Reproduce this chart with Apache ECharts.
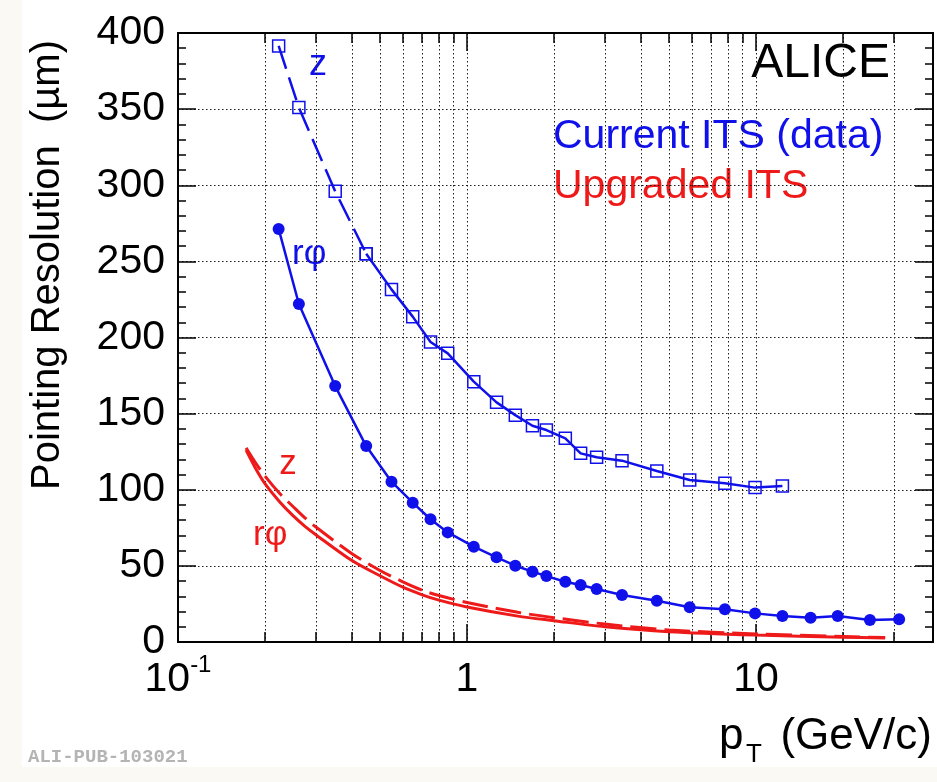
<!DOCTYPE html>
<html>
<head>
<meta charset="utf-8">
<title>Pointing resolution</title>
<script src="https://cdn.jsdelivr.net/npm/echarts@6/dist/echarts.min.js"></script>
<style>
  html, body { margin: 0; padding: 0; background: #fbf9f4; }
  #chart0 { width: 937px; height: 782px; }
</style>
</head>
<body>
<div id="chart0"></div>
<script>
// current ITS (data), pT bins in GeV/c
var ptCurrent = [0.223, 0.262, 0.35, 0.448, 0.548, 0.649, 0.748, 0.858, 1.056, 1.266, 1.47, 1.685, 1.883, 2.19, 2.474, 2.81, 3.44, 4.54, 5.9, 7.81, 9.93, 12.35, 15.46, 19.18, 24.8, 31.3];
var zCurrent = [391.5, 351, 296, 255, 231.6, 213.7, 197, 189.6, 171, 157.4, 149, 142, 139.2, 133.8, 123.9, 121.3, 119.1, 112.3, 106.4, 104.2, 101.4, 102.5];
var rphiCurrent = [271.3, 222, 168.1, 128.7, 105.3, 91.5, 80.6, 72, 62.6, 55.6, 50.1, 46.2, 43.3, 39.6, 37.4, 34.8, 30.9, 27.1, 22.8, 21.5, 18.8, 17.1, 16, 17.1, 14.4, 14.9];

// upgraded ITS
var ptUpgrade = [0.172, 0.185, 0.2, 0.225, 0.25, 0.275, 0.3, 0.4, 0.5, 0.6, 0.7, 0.8, 1, 1.5, 2, 3, 5, 10, 20, 28];
var zUpgrade = [127.5, 118, 109, 97.5, 89, 81.5, 75.5, 58, 47, 39.5, 34, 30.5, 26, 19.5, 16, 11.8, 7.9, 5.3, 3.6, 2.9];
var rphiUpgrade = [126, 114.5, 104, 92, 83, 76, 70.5, 53.5, 43.5, 36, 31, 27.5, 23, 17, 14, 10, 6.8, 4.6, 3.2, 2.6];

var xLabelTicks = [0.1, 1, 10];
var xGridTicks = [0.2, 0.3, 0.4, 0.5, 0.6, 0.7, 0.8, 0.9, 1, 2, 3, 4, 5, 6, 7, 8, 9, 10, 20, 30];

var blue = '#1010ea';
var red = '#ee1a1a';
var font = 'Liberation Sans, Arial, sans-serif';

function pairs(xs, ys) {
    return ys.map(function (v, i) { return [xs[i], v]; });
}

var zPts = pairs(ptCurrent, zCurrent);

var chartDom = document.getElementById('chart0');
var myChart = echarts.init(chartDom);
var option;

var dotted = { color: '#1a1a1a', width: 1, type: [1.5, 2.5] };
var logAxis = { type: 'log', logBase: 10, min: 0.1, max: 41, gridIndex: 0 };

function xAxisOf(pos, ticks, len, extra) {
    return Object.assign({}, logAxis, {
        position: pos,
        axisLine: { show: true, lineStyle: { color: '#000', width: 2 } },
        axisTick: { show: true, inside: true, length: len, customValues: ticks, lineStyle: { color: '#000', width: 1.5 } },
        axisLabel: { show: false },
        splitLine: { show: false }
    }, extra || {});
}

option = {
    backgroundColor: '#fff',
    animation: false,
    grid: { left: 178, right: 4, top: 33, bottom: 140, containLabel: false },
    xAxis: [
        xAxisOf('bottom', xLabelTicks, 18, {
            axisLabel: {
                show: true,
                customValues: xLabelTicks,
                margin: 11,
                formatter: function (v) {
                    var e = Math.round(Math.log10(v));
                    return e < 0 ? '{b|10}{s|' + e + '}' : '{b|' + Math.pow(10, e) + '}';
                },
                rich: {
                    b: { fontSize: 41, lineHeight: 41, fontFamily: font, color: '#000', padding: [13, 0, 0, 0] },
                    s: { fontSize: 24, lineHeight: 24, fontFamily: font, color: '#000', padding: [0, 0, 17, 0] }
                }
            }
        }),
        xAxisOf('bottom', xGridTicks, 10, { splitLine: { show: true, lineStyle: dotted } }),
        xAxisOf('top', xLabelTicks, 18),
        xAxisOf('top', xGridTicks, 10)
    ],
    yAxis: [
        {
            type: 'value', min: 0, max: 400, interval: 50, position: 'left',
            axisLine: { show: true, lineStyle: { color: '#000', width: 2 } },
            axisTick: { inside: true, length: 18, lineStyle: { color: '#000', width: 1.5 } },
            minorTick: { show: true, splitNumber: 5, length: 8, lineStyle: { color: '#000', width: 1.5 } },
            axisLabel: { fontSize: 41, fontFamily: font, color: '#000', margin: 13 },
            splitLine: { show: true, lineStyle: dotted }
        },
        {
            type: 'value', min: 0, max: 400, interval: 50, position: 'right',
            axisLine: { show: true, lineStyle: { color: '#000', width: 2 } },
            axisTick: { inside: true, length: 18, lineStyle: { color: '#000', width: 1.5 } },
            minorTick: { show: true, splitNumber: 5, length: 8, lineStyle: { color: '#000', width: 1.5 } },
            axisLabel: { show: false },
            splitLine: { show: false }
        }
    ],
    series: [
        {
            name: 'z upgraded', type: 'line', smooth: 0.3, showSymbol: false,
            data: pairs(ptUpgrade, zUpgrade),
            lineStyle: { color: red, width: 3, type: [26, 8] }
        },
        {
            name: 'rphi upgraded', type: 'line', smooth: 0.3, showSymbol: false,
            data: pairs(ptUpgrade, rphiUpgrade),
            lineStyle: { color: red, width: 3 }
        },
        {
            name: 'rphi current', type: 'line', symbol: 'circle', symbolSize: 12,
            data: pairs(ptCurrent, rphiCurrent),
            lineStyle: { color: blue, width: 2.5 },
            itemStyle: { color: blue }
        },
        {
            name: 'z current', type: 'line', symbol: 'rect', symbolSize: 12,
            data: zPts.slice(0, 4),
            lineStyle: { color: blue, width: 2.5, type: [24, 9] },
            itemStyle: { color: 'rgba(255,255,255,0)', borderColor: blue, borderWidth: 1.5 }
        },
        {
            name: 'z current', type: 'line', symbol: 'rect', symbolSize: 12,
            data: zPts.slice(3),
            lineStyle: { color: blue, width: 2.5 },
            itemStyle: { color: 'rgba(255,255,255,0)', borderColor: blue, borderWidth: 1.5 }
        }
    ],
    graphic: [
        { type: 'rect', shape: { x: 0, y: 0, width: 22, height: 782 }, style: { fill: '#fbf9f4' } },
        { type: 'rect', shape: { x: 0, y: 767, width: 937, height: 15 }, style: { fill: '#fbf9f4' } },
        { type: 'text', x: 48, y: 265, rotation: Math.PI / 2,
          style: { text: 'Pointing Resolution  (µm)', fontSize: 40, fontFamily: font, fill: '#000', align: 'center', verticalAlign: 'middle' } },
        { type: 'text', x: 719, y: 737, style: { text: 'p', fontSize: 44, fontFamily: font, fill: '#000', align: 'left', verticalAlign: 'middle' } },
        { type: 'text', x: 746, y: 755, style: { text: 'T', fontSize: 26, fontFamily: font, fill: '#000', align: 'left', verticalAlign: 'middle' } },
        { type: 'text', x: 932, y: 737, style: { text: '(GeV/c)', fontSize: 44, fontFamily: font, fill: '#000', align: 'right', verticalAlign: 'middle' } },
        { type: 'text', x: 890, y: 64, style: { text: 'ALICE', fontSize: 48, fontFamily: font, fill: '#000', align: 'right', verticalAlign: 'middle' } },
        { type: 'text', x: 553, y: 137, style: { text: 'Current ITS (data)', fontSize: 41, fontFamily: font, fill: blue, align: 'left', verticalAlign: 'middle' } },
        { type: 'text', x: 553, y: 187, style: { text: 'Upgraded ITS', fontSize: 41, fontFamily: font, fill: red, align: 'left', verticalAlign: 'middle' } },
        { type: 'text', x: 318, y: 65, style: { text: 'z', fontSize: 36, fontFamily: font, fill: blue, align: 'center', verticalAlign: 'middle' } },
        { type: 'text', x: 292, y: 254, style: { text: 'rφ', fontSize: 35, fontFamily: font, fill: blue, align: 'left', verticalAlign: 'middle' } },
        { type: 'text', x: 288, y: 464, style: { text: 'z', fontSize: 35, fontFamily: font, fill: red, align: 'center', verticalAlign: 'middle' } },
        { type: 'text', x: 253, y: 535, style: { text: 'rφ', fontSize: 35, fontFamily: font, fill: red, align: 'left', verticalAlign: 'middle' } },
        { type: 'text', x: 28, y: 757, style: { text: 'ALI-PUB-103021', fontSize: 19, fontWeight: 'bold', fontFamily: 'Liberation Mono, monospace', fill: '#b4b4b4', align: 'left', verticalAlign: 'middle' } }
    ]
};

option && myChart.setOption(option);
</script>
</body>
</html>
